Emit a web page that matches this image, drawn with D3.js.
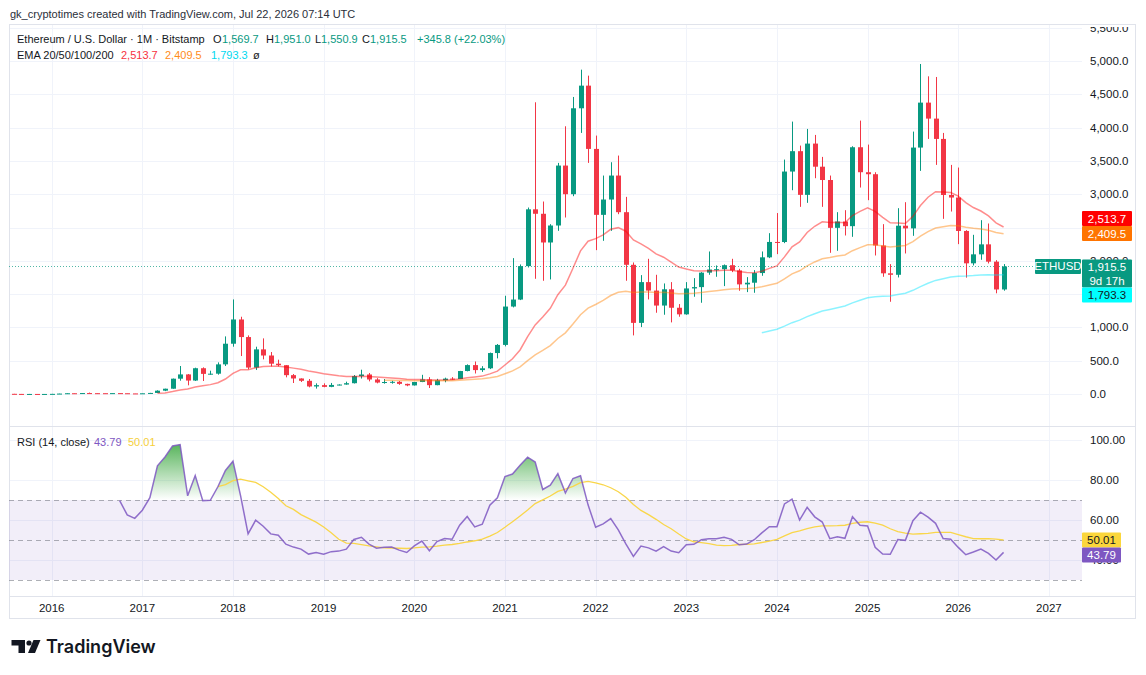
<!DOCTYPE html>
<html>
<head>
<meta charset="utf-8">
<script src="https://cdn.jsdelivr.net/npm/d3@7"></script>
<style>
  html, body { margin: 0; padding: 0; background: #fff; }
  svg { display: block; font-family: "Liberation Sans", Arial, sans-serif; }
</style>
</head>
<body>
<svg id="chart" width="1146" height="675"></svg>
<script>
// monthly ETHUSD bars, first bar = Aug 2015
const firstBar = { year: 2015, month: 8 };

const open = [
  2.77, 1.35, 0.74, 0.90, 0.87,
  0.93, 2.19, 6.36, 11.4, 8.80, 14.0, 12.3, 11.9, 11.3, 13.2, 11.4, 8.70,
  8.00, 10.7, 16.0, 50.0, 79.5, 230, 294, 202, 387, 302, 305, 445,
  755, 1119, 855, 397, 670, 578, 455, 433, 283, 233, 198, 113,
  133, 107, 136, 142, 162, 268, 293, 218, 172, 180, 183, 152,
  129, 180, 218, 133, 206, 231, 225, 345, 434, 359, 386, 615,
  737, 1313, 1418, 1920, 2773, 2706, 2275, 2530, 3430, 3000, 4290, 4630,
  3680, 2690, 2920, 3280, 2730, 1940, 1068, 1680, 1553, 1328, 1572, 1295,
  1196, 1585, 1605, 1822, 1869, 1874, 1934, 1856, 1646, 1671, 1816, 2052,
  2283, 2282, 3340, 3646, 2990, 3760, 3413, 3213, 2495, 2590, 2520, 3705,
  3330, 3300, 2230, 1812, 1790, 2527, 2487, 3700, 4375, 4135, 3830, 2988,
  2950, 2448, 1962, 2097, 2247, 1987, 1569.7
];
const high = [
  2.80, 1.39, 1.26, 1.05, 1.00,
  2.60, 6.70, 15.0, 12.0, 14.9, 21.5, 14.8, 12.2, 14.5, 13.3, 11.4, 8.80,
  11.5, 17.0, 55.0, 80.0, 232, 420, 300, 395, 400, 350, 475, 865,
  1420, 1160, 880, 710, 835, 630, 515, 435, 300, 235, 225, 160,
  160, 166, 145, 185, 285, 365, 315, 238, 225, 198, 195, 155,
  182, 288, 253, 228, 245, 253, 347, 445, 488, 418, 622, 750,
  1475, 2040, 1945, 2800, 4380, 2890, 2550, 3470, 4020, 4460, 4870, 4780,
  3880, 3280, 3480, 3580, 2960, 1975, 1785, 2030, 1790, 1660, 1680, 1350,
  1680, 1740, 1830, 2140, 1930, 1945, 2030, 1880, 1755, 1860, 2140, 2415,
  2717, 3520, 4090, 3730, 3980, 3890, 3560, 3280, 2730, 2760, 3720, 4105,
  3745, 3330, 2550, 1950, 2790, 2880, 3940, 4955, 4770, 4760, 3920, 3440,
  3400, 2460, 2390, 2610, 2560, 2010, 1951.0
];
const low = [
  0.42, 0.55, 0.42, 0.77, 0.81,
  0.93, 2.15, 6.30, 6.90, 8.30, 11.0, 10.0, 9.60, 10.8, 10.3, 8.60, 6.90,
  7.90, 10.5, 16.0, 43.0, 79.0, 200, 130, 195, 195, 290, 290, 420,
  710, 570, 370, 360, 520, 415, 415, 250, 165, 180, 100, 81,
  101, 102, 130, 140, 158, 232, 190, 160, 155, 155, 138, 117,
  127, 178, 90, 131, 176, 216, 225, 340, 308, 332, 374, 535,
  715, 1300, 1410, 1900, 1730, 1700, 1720, 2450, 2650, 2970, 3920, 3470,
  2160, 2300, 2450, 2700, 1700, 880, 1005, 1420, 1220, 1190, 1075, 1160,
  1190, 1460, 1370, 1790, 1760, 1620, 1830, 1550, 1530, 1520, 1775, 2040,
  2100, 2265, 3060, 2810, 2870, 3240, 2810, 2120, 2150, 2380, 2360, 3100,
  2910, 2080, 1760, 1385, 1750, 2110, 2375, 3350, 3830, 3440, 2630, 2740,
  2250, 1747, 1930, 2015, 1960, 1512, 1550.9
];
const close = [
  1.35, 0.74, 0.90, 0.87, 0.93,
  2.19, 6.36, 11.4, 8.80, 14.0, 12.3, 11.9, 11.3, 13.2, 11.4, 8.70, 8.00,
  10.7, 16.0, 50.0, 79.5, 230, 294, 202, 387, 302, 305, 445, 755,
  1119, 855, 397, 670, 578, 455, 433, 283, 233, 198, 113, 133,
  107, 136, 142, 162, 268, 293, 218, 172, 180, 183, 152, 129,
  180, 218, 133, 206, 231, 225, 345, 434, 359, 386, 615, 737,
  1313, 1418, 1920, 2773, 2706, 2275, 2530, 3430, 3000, 4290, 4630, 3680,
  2690, 2920, 3280, 2730, 1940, 1068, 1680, 1553, 1328, 1572, 1295, 1196,
  1585, 1605, 1822, 1869, 1874, 1934, 1856, 1646, 1671, 1816, 2052, 2283,
  2282, 3340, 3646, 2990, 3760, 3413, 3213, 2495, 2590, 2520, 3705, 3330,
  3300, 2230, 1812, 1790, 2527, 2487, 3700, 4375, 4135, 3830, 2988, 2950,
  2448, 1962, 2097, 2247, 1987, 1569.7, 1915.5
];

const yearTicks = [2016, 2017, 2018, 2019, 2020, 2021, 2022, 2023, 2024, 2025, 2026, 2027];
const priceTicks = [0, 500, 1000, 1500, 2000, 2500, 3000, 3500, 4000, 4500, 5000, 5500];
const hiddenPriceLabels = [1500, 2500]; // covered by the price-scale badges
const rsiTicks = [40, 60, 80, 100];
const rsiLevels = [70, 50, 30];

const emaLengths = [20, 50, 100];
const emaLineColors = ["#ff0000", "#ff8000", "#00e5ff"];
const emaLast = [2513.7, 2409.5, 1793.3];
const lastPrice = 1915.5;
const rsiLast = 43.79, rsiMaLast = 50.01;

const green = "#089981", red = "#f23645";
const gridColor = "#f0f3fa", borderColor = "#e0e3eb", textColor = "#131722";

// layout
const paneL = 9, paneR = 1082, frameR = 1136;
const mainTop = 24, mainBot = 426, rsiTop = 427, rsiBot = 596, axisBot = 619;

const svg = d3.select("#chart");

const x = d3.scaleLinear().domain([0, 137]).range([13.9, 1048.9]);
const y = d3.scaleLinear().domain([0, 5000]).range([394, 61]);
const yr = d3.scaleLinear().domain([30, 70]).range([580, 500]);
const barOf = yr0 => (yr0 - firstBar.year) * 12 - (firstBar.month - 1);

// --- indicators from the bars ---
function ema(src, n) {
  const out = src.map(() => null);
  if (src.length < n) return out;
  let v = d3.mean(src.slice(0, n));
  out[n - 1] = v;
  const a = 2 / (n + 1);
  for (let i = n; i < src.length; i++) { v = a * src[i] + (1 - a) * v; out[i] = v; }
  return out;
}
function rsi(src, n) {
  const out = src.map(() => null);
  let up = 0, dn = 0;
  for (let i = 1; i <= n; i++) {
    const d = src[i] - src[i - 1];
    up += Math.max(d, 0); dn += Math.max(-d, 0);
  }
  up /= n; dn /= n;
  out[n] = dn === 0 ? 100 : 100 - 100 / (1 + up / dn);
  for (let i = n + 1; i < src.length; i++) {
    const d = src[i] - src[i - 1];
    up = (up * (n - 1) + Math.max(d, 0)) / n;
    dn = (dn * (n - 1) + Math.max(-d, 0)) / n;
    out[i] = dn === 0 ? 100 : 100 - 100 / (1 + up / dn);
  }
  return out;
}
function sma(src, n) {
  return src.map((v, i) => {
    if (i < n - 1) return null;
    const w = src.slice(i - n + 1, i + 1);
    return w.some(z => z == null) ? null : d3.mean(w);
  });
}
const emas = emaLengths.map(n => ema(close, n));
const rsiVals = rsi(close, 14);
const rsiMa = sma(rsiVals, 14);

// --- defs ---
const defs = svg.append("defs");
defs.append("clipPath").attr("id", "clipMain").append("rect")
  .attr("x", paneL).attr("y", mainTop).attr("width", paneR - paneL).attr("height", mainBot - mainTop);
defs.append("clipPath").attr("id", "clipRsi").append("rect")
  .attr("x", paneL).attr("y", rsiTop).attr("width", paneR - paneL).attr("height", rsiBot - rsiTop);
defs.append("clipPath").attr("id", "clipOB").append("rect")
  .attr("x", paneL).attr("y", rsiTop).attr("width", paneR - paneL).attr("height", yr(70) - rsiTop);
defs.append("clipPath").attr("id", "clipAxis").append("rect")
  .attr("x", paneR).attr("y", 27).attr("width", frameR - paneR).attr("height", mainBot - 27);
const grad = defs.append("linearGradient").attr("id", "obGrad")
  .attr("gradientUnits", "userSpaceOnUse").attr("x1", 0).attr("x2", 0)
  .attr("y1", yr(100)).attr("y2", yr(70));
grad.append("stop").attr("offset", 0).attr("stop-color", "#4caf50").attr("stop-opacity", 1);
grad.append("stop").attr("offset", 1).attr("stop-color", "#4caf50").attr("stop-opacity", 0);

// --- grid ---
const grid = svg.append("g");
grid.selectAll(".vg").data(yearTicks).enter().append("line")
  .attr("x1", d => Math.round(x(barOf(d))) + 0.5).attr("x2", d => Math.round(x(barOf(d))) + 0.5)
  .attr("y1", mainTop).attr("y2", rsiBot)
  .attr("stroke", gridColor);
grid.selectAll(".hg").data(priceTicks).enter().append("line")
  .attr("x1", paneL).attr("x2", paneR)
  .attr("y1", d => Math.round(y(d)) + 0.5).attr("y2", d => Math.round(y(d)) + 0.5)
  .attr("stroke", gridColor)
  .attr("clip-path", "url(#clipMain)");
grid.selectAll(".rg").data(rsiTicks).enter().append("line")
  .attr("x1", paneL).attr("x2", paneR)
  .attr("y1", d => Math.round(yr(d)) + 0.5).attr("y2", d => Math.round(yr(d)) + 0.5)
  .attr("stroke", gridColor);

// --- frame ---
const frame = svg.append("g").attr("fill", "none").attr("stroke", borderColor);
frame.append("rect").attr("x", paneL + 0.5).attr("y", mainTop + 0.5)
  .attr("width", frameR - paneL - 1).attr("height", axisBot - mainTop - 1);
frame.append("line").attr("x1", paneL).attr("x2", frameR).attr("y1", rsiTop - 0.5).attr("y2", rsiTop - 0.5);
frame.append("line").attr("x1", paneL).attr("x2", frameR).attr("y1", rsiBot + 0.5).attr("y2", rsiBot + 0.5);

// --- price pane ---
const main = svg.append("g").attr("clip-path", "url(#clipMain)");

// last price dotted line
main.append("line")
  .attr("x1", paneL).attr("x2", paneR)
  .attr("y1", Math.round(y(lastPrice)) + 0.5).attr("y2", Math.round(y(lastPrice)) + 0.5)
  .attr("stroke", green).attr("stroke-opacity", 0.7).attr("stroke-width", 1).attr("stroke-dasharray", "1,2");

const bars = d3.range(close.length);
const cx = i => Math.round(x(i));
const col = i => close[i] >= open[i] ? green : red;

main.selectAll(".wick").data(bars).enter().append("line")
  .attr("x1", i => cx(i) + 0.5).attr("x2", i => cx(i) + 0.5)
  .attr("y1", i => y(high[i])).attr("y2", i => y(low[i]))
  .attr("stroke", col).attr("stroke-width", 1);
main.selectAll(".body").data(bars).enter().append("rect")
  .attr("x", i => cx(i) - 2).attr("width", 5)
  .attr("y", i => Math.min(y(open[i]), y(close[i])))
  .attr("height", i => Math.max(1, Math.abs(y(open[i]) - y(close[i]))))
  .attr("fill", col);

emas.forEach((e, k) => {
  main.append("path")
    .datum(bars.filter(i => e[i] != null))
    .attr("fill", "none")
    .attr("stroke", emaLineColors[k]).attr("stroke-opacity", 0.45).attr("stroke-width", 1.5)
    .attr("d", d3.line().x(i => x(i)).y(i => y(e[i])));
});

// price axis labels
svg.append("g").attr("clip-path", "url(#clipAxis)")
  .selectAll("text").data(priceTicks.filter(d => d % 1000 === 0 || !hiddenPriceLabels.includes(d)))
  .enter().append("text")
  .attr("x", 1090).attr("y", d => y(d)).attr("dy", "0.35em")
  .attr("font-size", 11.5).attr("fill", textColor)
  .text(d => d3.format(",.1f")(d));

// --- RSI pane ---
const rp = svg.append("g").attr("clip-path", "url(#clipRsi)");
rp.append("rect").attr("x", paneL).attr("width", paneR - paneL)
  .attr("y", yr(70)).attr("height", yr(30) - yr(70))
  .attr("fill", "#7e57c2").attr("fill-opacity", 0.1);
rp.selectAll(".lvl").data(rsiLevels).enter().append("line")
  .attr("x1", paneL).attr("x2", paneR)
  .attr("y1", d => Math.round(yr(d)) + 0.5).attr("y2", d => Math.round(yr(d)) + 0.5)
  .attr("stroke", "#787b86").attr("stroke-opacity", 0.6).attr("stroke-dasharray", "5,4");

const rsiBars = bars.filter(i => rsiVals[i] != null);
rp.append("path").datum(rsiBars)
  .attr("clip-path", "url(#clipOB)")
  .attr("fill", "url(#obGrad)")
  .attr("d", d3.area().x(i => x(i)).y0(yr(70)).y1(i => yr(rsiVals[i])));
rp.append("path").datum(bars.filter(i => rsiMa[i] != null))
  .attr("fill", "none").attr("stroke", "#f9d64a").attr("stroke-width", 1.3)
  .attr("d", d3.line().x(i => x(i)).y(i => yr(rsiMa[i])));
rp.append("path").datum(rsiBars)
  .attr("fill", "none").attr("stroke", "#7e57c2").attr("stroke-width", 1.5)
  .attr("stroke-opacity", 0.85)
  .attr("d", d3.line().x(i => x(i)).y(i => yr(rsiVals[i])));

svg.append("g").selectAll("text").data(rsiTicks).enter().append("text")
  .attr("x", 1090).attr("y", d => yr(d)).attr("dy", "0.35em")
  .attr("font-size", 11.5).attr("fill", textColor)
  .text(d => d.toFixed(2));

// --- time axis ---
svg.append("g").selectAll("text").data(yearTicks).enter().append("text")
  .attr("x", d => x(barOf(d))).attr("y", 608).attr("dy", "0.35em")
  .attr("text-anchor", "middle").attr("font-size", 11.5).attr("fill", textColor)
  .text(d => d);

// --- badges on the price scale ---
function badge(yc, h, bg, fg, lines, x0 = paneR, w = 50) {
  const g = svg.append("g");
  g.append("rect").attr("x", x0).attr("y", yc - h / 2).attr("width", w).attr("height", h)
    .attr("rx", 1).attr("fill", bg);
  lines.forEach((t, k) => {
    g.append("text").attr("x", x0 + w / 2).attr("y", yc - h / 2 + 7.5 + k * 14).attr("dy", "0.35em")
      .attr("text-anchor", "middle").attr("font-size", 11.5).attr("fill", fg).text(t);
  });
}
const fmt = d3.format(",.1f");
const yPrice = y(lastPrice);
const yOrange = y(emaLast[1]);
badge(yOrange - 15, 15, "#ff0000", "#fff", [fmt(emaLast[0])]);
badge(yOrange, 15, "#ff7400", "#fff", [fmt(emaLast[1])]);
badge(yPrice + 7, 28, green, "#fff", [fmt(lastPrice), "9d 17h"]);
badge(yPrice + 28.5, 15, "#00ffff", textColor, [fmt(emaLast[2])]);
badge(yPrice, 15, green, "#fff", ["ETHUSD"], 1035, 46);
badge(yr(rsiMaLast), 15, "#fbd63b", textColor, [rsiMaLast.toFixed(2)], paneR, 39);
badge(yr(rsiMaLast) + 15, 15, "#7e57c2", "#fff", [rsiLast.toFixed(2)], paneR, 39);

// --- legends ---
function seg(g, xpos, yy, txt, color) {
  g.append("text").attr("x", xpos).attr("y", yy).attr("dy", "0.35em")
    .attr("font-size", 11).attr("fill", color).text(txt);
}
const lg = svg.append("g");
svg.append("text").attr("x", 10).attr("y", 14).attr("dy", "0.35em")
  .attr("font-size", 11).attr("fill", "#2a2e39")
  .text("gk_cryptotimes created with TradingView.com, Jul 22, 2026 07:14 UTC");
seg(lg, 17, 39, "Ethereum / U.S. Dollar · 1M · Bitstamp", textColor);
seg(lg, 213, 39, "O", textColor); seg(lg, 222, 39, fmt(open[open.length - 1]), green);
seg(lg, 266, 39, "H", textColor); seg(lg, 274, 39, fmt(high[high.length - 1]), green);
seg(lg, 315, 39, "L", textColor); seg(lg, 321, 39, fmt(low[low.length - 1]), green);
seg(lg, 362, 39, "C", textColor); seg(lg, 370, 39, fmt(lastPrice), green);
seg(lg, 417, 39, "+345.8 (+22.03%)", green);
seg(lg, 17, 55, "EMA 20/50/100/200", textColor);
seg(lg, 121, 55, fmt(emaLast[0]), "#f7323f");
seg(lg, 165, 55, fmt(emaLast[1]), "#ff8c1a");
seg(lg, 211, 55, fmt(emaLast[2]), "#00d8f0");
seg(lg, 253, 55, "ø", textColor);
seg(lg, 17, 442, "RSI (14, close)", textColor);
seg(lg, 94, 442, rsiLast.toFixed(2), "#7e57c2");
seg(lg, 128, 442, rsiMaLast.toFixed(2), "#f5cf3a");

// --- TradingView logo ---
const logo = svg.append("g").attr("fill", textColor);
logo.append("path").attr("d", "M11.5,640 H25 V653 H18.5 V645.5 H11.5 Z");
logo.append("circle").attr("cx", 29).attr("cy", 643).attr("r", 2.6);
logo.append("path").attr("d", "M33.5,640 H40.5 L35,653 H28 Z");
svg.append("text").attr("x", 46).attr("y", 647).attr("dy", "0.35em")
  .attr("font-size", 18).attr("font-weight", 600).attr("fill", textColor)
  .attr("font-family", "Inter, 'Noto Sans', sans-serif")
  .text("TradingView");
</script>
</body>
</html>
